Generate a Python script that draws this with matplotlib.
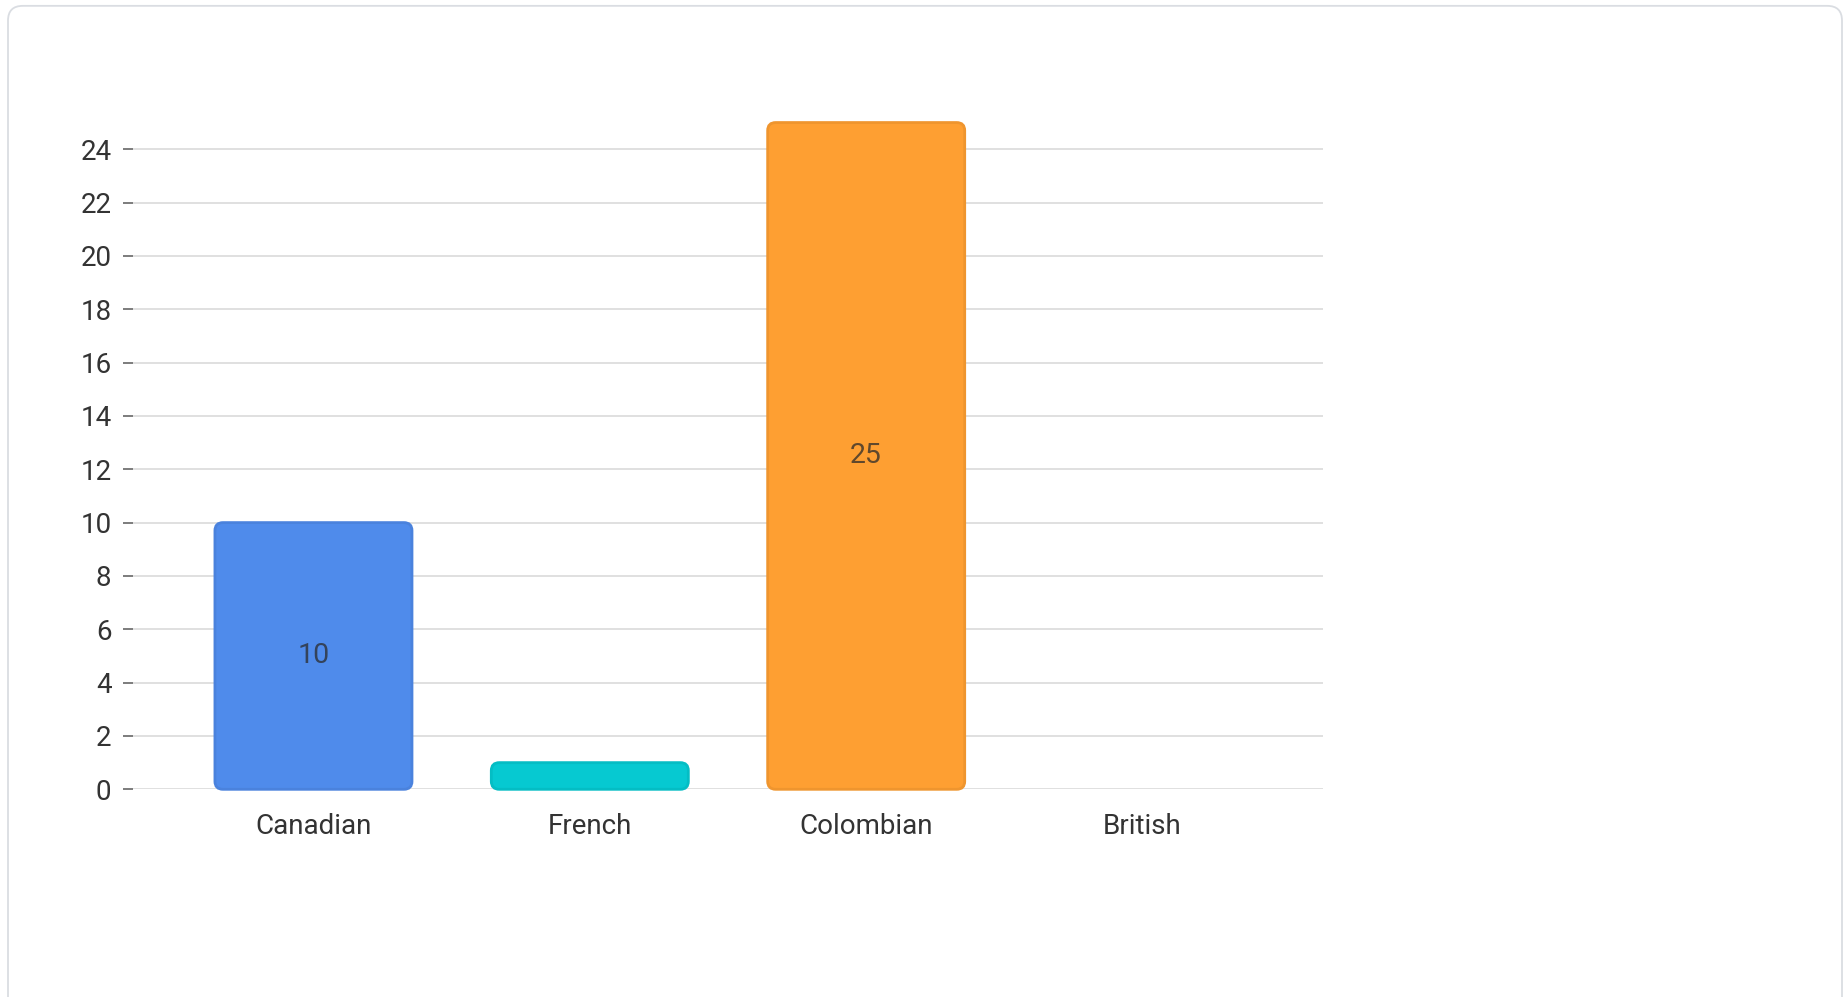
import matplotlib.pyplot as plt
from matplotlib.patches import FancyBboxPatch

plt.rcParams['font.family'] = ['Roboto', 'DejaVu Sans']

# chart data
nationalities = ['Canadian', 'French', 'Colombian', 'British']
counts = [10, 1, 25, 0]
fill_colors = ['#4F8BEB', '#06C9D1', '#FE9F32', '#9C59D1']
edge_colors = ['#4A82DD', '#04BDC4', '#EF952E', '#8F4FC2']
y_ticks = list(range(0, 25, 2))

W, H = 1849, 997
fig = plt.figure(figsize=(W / 100, H / 100), dpi=100)

# light card border round the chart
card = FancyBboxPatch((8 / W, -0.05), (1842 - 8) / W, (991 + 50) / H,
                      boxstyle='round,pad=0,rounding_size=0.008',
                      transform=fig.transFigure, facecolor='none',
                      edgecolor='#DADDE2', linewidth=1.3, mutation_aspect=W / H,
                      zorder=-1)
fig.patches.append(card)

# axes placed so the zero line and gridlines line up with the reference
ax = fig.add_axes([133 / W, (H - 789.3) / H, (1323 - 133) / W, 26 * 26.67 / H])
ax.set_xlim(-0.653, 3.653)
ax.set_ylim(0, 26)
ax.patch.set_alpha(0)

bars = ax.bar(range(len(nationalities)), counts, width=0.713, color=fill_colors)

# swap the square bars for rounded ones
px_x = 1 / 276.3   # data units per pixel on x
px_y = 1 / 26.67   # data units per pixel on y
for rect, fc, ec, v in zip(bars, fill_colors, edge_colors, counts):
    rect.set_visible(False)
    if v <= 0:
        continue
    rb = FancyBboxPatch((rect.get_x(), 0), rect.get_width(), v,
                        boxstyle='round,pad=0,rounding_size=%f' % (8 * px_x),
                        mutation_aspect=px_y / px_x,
                        facecolor=fc, edgecolor=ec, linewidth=2, clip_on=False, zorder=3)
    ax.add_patch(rb)
    if v >= 3:
        ax.text(rect.get_x() + rect.get_width() / 2, v / 2, str(v),
                ha='center', va='center', fontsize=20.5, color='#2b2b2b', alpha=0.75, zorder=4)

ax.set_yticks(y_ticks)
ax.set_xticks(range(len(nationalities)))
ax.set_xticklabels(nationalities)
ax.grid(axis='y', color='#E0E0E0', linewidth=1.4, zorder=0)
ax.set_axisbelow(True)
for s in ax.spines.values():
    s.set_visible(False)
ax.tick_params(axis='y', length=7.5, width=1.2, color='#666666', pad=8,
               labelsize=20, labelcolor='#333333')
ax.tick_params(axis='x', length=0, pad=17, labelsize=20, labelcolor='#333333')

fig.savefig('out.png', dpi=100)
